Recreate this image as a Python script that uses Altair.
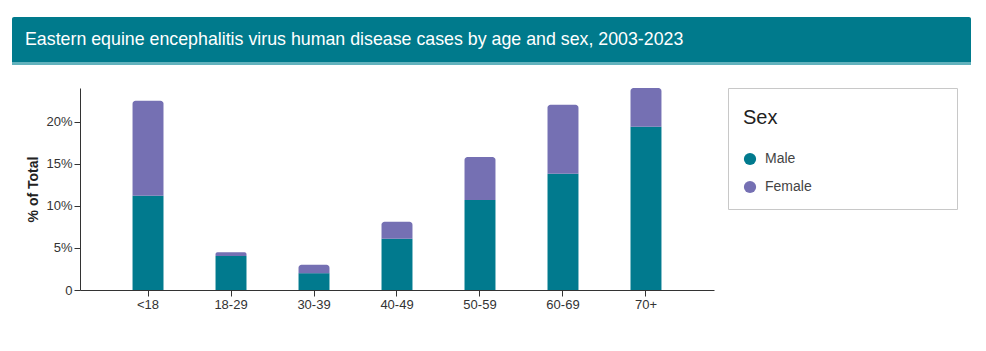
import altair as alt
import pandas as pd

# ---- data ----
age_groups = ["<18", "18-29", "30-39", "40-49", "50-59", "60-69", "70+"]
male_pct = [11.2, 4.05, 2.0, 6.1, 10.7, 13.8, 19.4]
female_pct = [11.3, 0.45, 1.0, 2.0, 5.1, 8.2, 4.6]
sexes = ["Male", "Female"]
y_ticks = [0, 0.05, 0.10, 0.15, 0.20]
title_text = "Eastern equine encephalitis virus human disease cases by age and sex, 2003-2023"

MALE_C = "#017a8e"
FEMALE_C = "#7570b3"
FONT = "Liberation Sans"

rows = []
for a, m, f in zip(age_groups, male_pct, female_pct):
    rows.append({"Age": a, "Sex": "Male", "start": 0.0, "end": m / 100})
    rows.append({"Age": a, "Sex": "Female", "start": m / 100, "end": (m + f) / 100})
df = pd.DataFrame(rows)

W, H = 634, 202

x_enc = alt.X(
    "Age:N",
    sort=age_groups,
    scale=alt.Scale(paddingInner=0.627, paddingOuter=0.633),
    axis=alt.Axis(
        title=None, labelAngle=0, labelFontSize=13, labelColor="#333",
        labelFont=FONT, tickSize=6, tickColor="#333", domainColor="#333",
        labelPadding=2, grid=False,
    ),
)
y_enc = alt.Y(
    "start:Q",
    scale=alt.Scale(domain=[0, 0.24], nice=False),
    axis=alt.Axis(
        title="% of Total", values=y_ticks,
        labelExpr="datum.value == 0 ? '0' : format(datum.value, '.0%')",
        labelFontSize=13, labelColor="#333", labelFont=FONT,
        tickSize=6, tickColor="#333", domainColor="#333", labelPadding=2,
        titleFont=FONT, titleFontSize=14, titleFontWeight="bold", titleColor="#222",
        titleAngle=-90, titleX=-47, titleY=H / 2, titleAlign="center",
        titleBaseline="middle", grid=False,
    ),
)
color_enc = alt.Color(
    "Sex:N",
    scale=alt.Scale(domain=sexes, range=[MALE_C, FEMALE_C]),
    legend=alt.Legend(
        title="Sex", orient="none", legendX=663, legendY=20,
        titleFont=FONT, titleFontSize=20, titleFontWeight="normal", titleColor="#222",
        titlePadding=24, labelFont=FONT, labelFontSize=14, labelColor="#444",
        symbolType="circle", symbolSize=150, symbolStrokeWidth=0, symbolOpacity=1,
        rowPadding=14, labelOffset=8,
    ),
)

base = alt.Chart(df).encode(x=x_enc, y=y_enc, y2="end:Q", color=color_enc)
male_bars = base.transform_filter(alt.datum.Sex == "Male").mark_bar()
female_bars = base.transform_filter(alt.datum.Sex == "Female").mark_bar(
    cornerRadiusTopLeft=3, cornerRadiusTopRight=3
)

one = pd.DataFrame({"k": [0]})
header = alt.Chart(one).mark_rect(color="#007a8c", cornerRadiusTopLeft=2, cornerRadiusTopRight=2).encode(
    x=alt.value(-68), x2=alt.value(891), y=alt.value(-71), y2=alt.value(-26)
)
stripe = alt.Chart(one).mark_rect(color="#62b2bd").encode(
    x=alt.value(-68), x2=alt.value(891), y=alt.value(-26), y2=alt.value(-23)
)
header_text = alt.Chart(one).mark_text(
    text=title_text, color="white", font=FONT, fontSize=17.8, align="left", baseline="middle"
).encode(x=alt.value(-55), y=alt.value(-48))
legend_box = alt.Chart(one).mark_rect(fill="white", stroke="#c8c8c8", strokeWidth=1).encode(
    x=alt.value(648.5), x2=alt.value(877.5), y=alt.value(0.5), y2=alt.value(121.5)
)

chart = alt.layer(
    header, stripe, header_text, legend_box, male_bars, female_bars
).properties(
    width=W, height=H,
    autosize=alt.AutoSizeParams(type="none"),
    padding={"left": 80, "top": 88, "right": 272, "bottom": 61},
    background="white",
).configure_view(stroke=None)

chart.save("out.html", embed_options={"renderer": "svg", "actions": False})
